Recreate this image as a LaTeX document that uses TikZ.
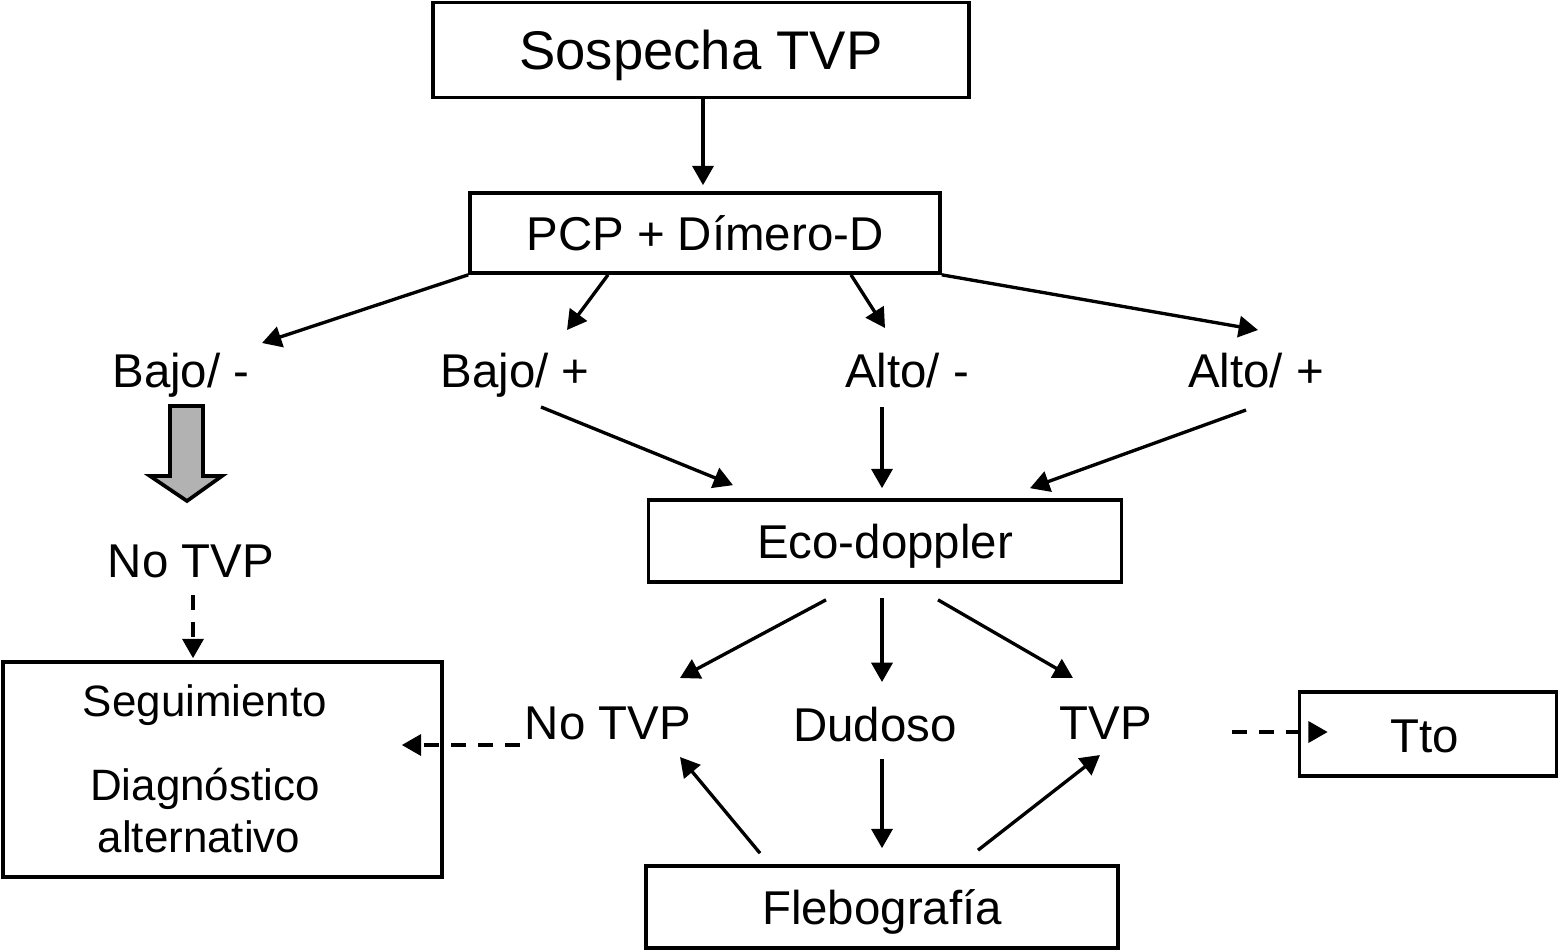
\documentclass[tikz,border=0pt]{standalone}
\usepackage{fontspec}
\setmainfont{Liberation Sans}
\usetikzlibrary{arrows.meta, calc}

\newcommand{\fontbig}{\fontsize{31}{37}\selectfont}
\newcommand{\fontmid}{\fontsize{27}{32}\selectfont}
\newcommand{\fontsmall}{\fontsize{25}{30}\selectfont}

\begin{document}
\begin{tikzpicture}[x=0.02cm, y=-0.02cm,
		box/.style={draw, line width=2.1pt, inner sep=0pt, font=\fontmid, text height=19.4pt, text depth=0pt},
		lbl/.style={inner sep=0pt, font=\fontmid, text height=19.4pt, text depth=0pt},
		seglbl/.style={inner sep=0pt, font=\fontsmall, text height=17.9pt, text depth=0pt},
		arr/.style={line width=1.9pt, -{Triangle[length=11pt, width=12pt]}},
		dasharr/.style={arr, dash pattern=on 8.5pt off 6.8pt}]
	\useasboundingbox (0,0) rectangle (1562,951);
	% Boxes:
	\node[box, font=\fontbig, text height=22.2pt, minimum width=10.72cm, minimum height=1.9cm] (sosp) at (701,50) {Sospecha TVP};
	\node[box, minimum width=9.4cm, minimum height=1.6cm] (pcp) at (705,233) {PCP + Dímero-D};
	\node[box, minimum width=9.46cm, minimum height=1.64cm] (eco) at (885,541) {Eco-doppler};
	\node[box, minimum width=9.44cm, minimum height=1.64cm] (fleb) at (882,907) {Flebografía};
	\node[box, minimum width=5.14cm, minimum height=1.68cm] (tto) at (1428,734) {};
	\node[lbl] (ttotxt) at (1425,735) {Tto};
	\node[box, minimum width=8.78cm, minimum height=4.3cm] (seg) at (222.5,769.5) {};
	\node[seglbl] (seg1) at (205,701) {Seguimiento};
	\node[seglbl] (seg2) at (205,785) {Diagnóstico};
	\node[seglbl] (seg3) at (199,837) {alternativo};
	% Labels:
	\node[lbl] (b1) at (181,370) {Bajo/ -};
	\node[lbl] (b2) at (515,370) {Bajo/ +};
	\node[lbl] (a1) at (907,370) {Alto/ -};
	\node[lbl] (a2) at (1256,370) {Alto/ +};
	\node[lbl] (notvp1) at (191,560) {No TVP};
	\node[lbl] (notvp2) at (608,722) {No TVP};
	\node[lbl] (dud) at (875,724) {Dudoso};
	\node[lbl] (tvp) at (1106,722) {TVP};
	% Arrows:
	\draw[arr] ($(sosp.south)+(2,0)$) -- ($(pcp.north)+(-2,-6)$);
	\draw[arr] (pcp.south west) -- ($(b1)+(81,-27)$);
	\draw[arr] ($(pcp.south)+(-97,0)$) -- ($(b2)+(52,-40)$);
	\draw[arr] ($(pcp.south)+(146,0)$) -- ($(a1)+(-22,-42)$);
	\draw[arr] (pcp.south east) -- ($(a2)+(2,-40)$);
	\draw[arr] ($(b2)+(26,37)$) -- ($(eco.north)+(-152,-13)$);
	\draw[arr] ($(a1)+(-25,37)$) -- ($(eco.north)+(-3,-10)$);
	\draw[arr] ($(a2)+(-10,40)$) -- ($(eco.north)+(145,-10)$);
	\draw[arr] ($(eco.south)+(-59,16)$) -- ($(notvp2)+(72,-44)$);
	\draw[arr] ($(eco.south)+(-3,14)$) -- ($(dud)+(7,-42)$);
	\draw[arr] ($(eco.south)+(53,16)$) -- ($(tvp)+(-33,-44)$);
	\draw[arr] ($(dud)+(7,35)$) -- ($(fleb.north)+(0,-16)$);
	\draw[arr] ($(fleb.north)+(-122,-11)$) -- ($(notvp2)+(72,35)$);
	\draw[arr] ($(fleb.north)+(96,-14)$) -- ($(tvp)+(-6,33)$);
	% Dashed arrows:
	\draw[dasharr] ($(notvp1)+(2,35)$) -- ($(seg.north)+(-29.5,-2)$);
	\draw[dasharr] ($(notvp2)+(-88,23)$) -- ($(seg.east)+(-42,-24.5)$);
	\draw[dasharr] ($(tvp)+(126,10)$) -- ($(tto.west)+(30,-2)$);
	% Gray block arrow:
	\draw[line width=2.1pt, fill={rgb,255:red,178;green,178;blue,178}]
		(170,406) -- (203,406) -- (203,476) -- (222,476) -- (187,501) -- (150,476) -- (170,476) -- cycle;
\end{tikzpicture}
\end{document}
